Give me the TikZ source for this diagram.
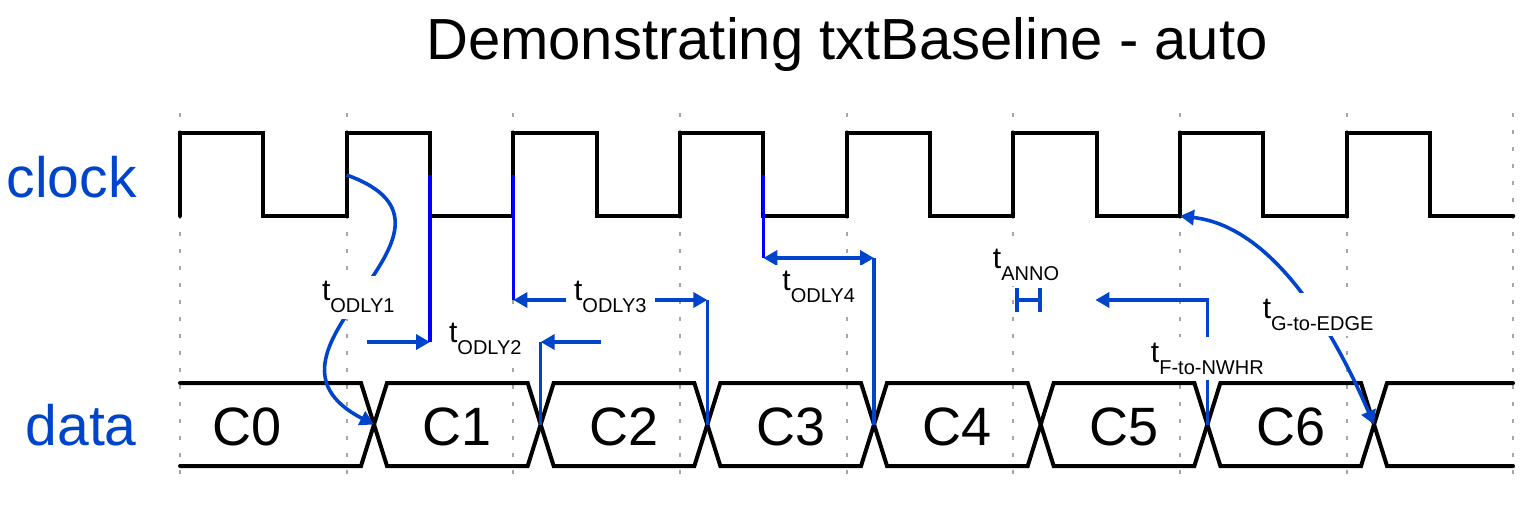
\documentclass[tikz,border=0pt]{standalone}
\usepackage{fontspec}
\setmainfont{Liberation Sans}
\usetikzlibrary{arrows.meta,calc}
\definecolor{annoblue}{RGB}{0,68,204}
\definecolor{edgeblue}{RGB}{0,0,255}
\newcommand{\tlab}[1]{t\raisebox{-6pt}{\fontsize{10}{10}\selectfont #1}}

\begin{document}
\begin{tikzpicture}[x=0.5pt,y=-0.5pt,
  sig/.style={line width=2pt, line cap=round},
  raster/.style={gray!70, line width=1pt, dash pattern=on 2pt off 6.5pt},
  anno/.style={annoblue, line width=1.8pt},
  flanke/.style={edgeblue, line width=1.8pt},
  pfeil/.style={-{Triangle[length=7pt,width=7.5pt]}},
  doppelpfeil/.style={{Triangle[length=7pt,width=7.5pt]}-{Triangle[length=7pt,width=7.5pt]}},
  lbl/.style={fill=white, text=black, inner xsep=4pt, inner ysep=3pt, font=\fontsize{15}{15}\selectfont, anchor=base},
  signame/.style={annoblue, font=\fontsize{28.5}{28.5}\selectfont, anchor=base east, inner sep=0pt},
  wert/.style={font=\fontsize{27}{27}\selectfont, anchor=base, inner sep=0pt}]

\useasboundingbox (0,0) rectangle (1534,510);

% Titel
\node[font=\fontsize{29}{29}\selectfont, anchor=base] (titel) at (847,59) {Demonstrating txtBaseline - auto};

% Raster
\foreach \k in {0,...,8}
  \draw[raster] ({180+166.67*\k},113) -- ++(0,373);

% Takt
\node[signame] (clk) at (137,197) {clock};
\draw[sig] (180,216) \foreach \k in {0,...,7} { -- ++(0,-83) -- ++(83.33,0) -- ++(0,83) -- ++(83.33,0) };
\foreach \k in {0,...,7} {
  \coordinate (clkR\k) at ({180+166.67*\k},175);
  \coordinate (clkF\k) at ({263.33+166.67*\k},175);
}

% Daten
\node[signame] (dat) at (137,445) {data};
\foreach \k in {1,...,7}
  \coordinate (dx\k) at ({207.33+166.67*\k},424.5);
\draw[sig] (180,383) -- ($(dx1)+(-13,-41.5)$) -- (dx1) -- ($(dx1)+(-13,41.5)$) -- (180,466);
\foreach \k/\n in {1/2,2/3,3/4,4/5,5/6,6/7}
  \draw[sig] (dx\k) -- ++(13,-41.5) -- ($(dx\n)+(-13,-41.5)$) -- (dx\n) -- ++(-13,41.5) -- ($(dx\k)+(13,41.5)$) -- cycle;
\draw[sig] (1513,383) -- ($(dx7)+(13,-41.5)$) -- (dx7) -- ++(13,41.5) -- (1513,466);

\node[wert] (c0) at (247,445) {C0};
\foreach \k in {1,...,6}
  \node[wert] (c\k) at ({290.67+166.67*\k},445) {C\k};

% tODLY1
\draw[anno,pfeil] (clkR1) .. controls +(153,55) and +(-144,-74) .. (dx1) node[lbl,pos=0.53] (tO1) {\tlab{ODLY1}};

% tODLY2
\draw[flanke] (clkF1) -- ++(0,167) coordinate (o2l);
\draw[anno] (dx2) -- (dx2 |- o2l) coordinate (o2r);
\draw[anno,pfeil] ($(o2l)+(-63,0)$) -- (o2l);
\draw[anno,pfeil] ($(o2r)+(60,0)$) -- (o2r);
\node[lbl] (tO2) at ($(o2l)!0.5!(o2r)$) {\tlab{ODLY2}};

% tODLY3
\draw[flanke] (clkR2) -- ++(0,125) coordinate (o3l);
\draw[anno] (dx3) -- (dx3 |- o3l) coordinate (o3r);
\draw[anno,doppelpfeil] (o3l) -- (o3r) node[lbl,midway] (tO3) {\tlab{ODLY3}};

% tODLY4
\draw[flanke] (clkF3) -- ++(0,83) coordinate (o4l);
\draw[anno] (dx4) -- (dx4 |- o4l) coordinate (o4r);
\draw[anno,doppelpfeil] (o4l) -- (o4r) node[lbl,midway,yshift=-16pt] (tO4) {\tlab{ODLY4}};

% tANNO
\coordinate (an1) at (1015,300);
\coordinate (an2) at (1042,300);
\draw[anno,{Bar[width=12pt]}-{Bar[width=12pt]}] (an1) -- (an2);
\node[lbl] (tAN) at (1026,268) {\tlab{ANNO}};

% tF-to-NWHR
\draw[anno,pfeil] (dx6) -- node[lbl,pos=0.5] (tFN) {\tlab{F-to-NWHR}} ++(0,-124.5) -- ++(-112,0);

% tG-to-EDGE
\draw[anno,doppelpfeil] ($(clkR6)+(0,41)$) .. controls +(80,9) and +(-54,-124.5) .. (dx7) node[lbl,pos=0.67] (tGE) {\tlab{G-to-EDGE}};

\end{tikzpicture}
\end{document}
